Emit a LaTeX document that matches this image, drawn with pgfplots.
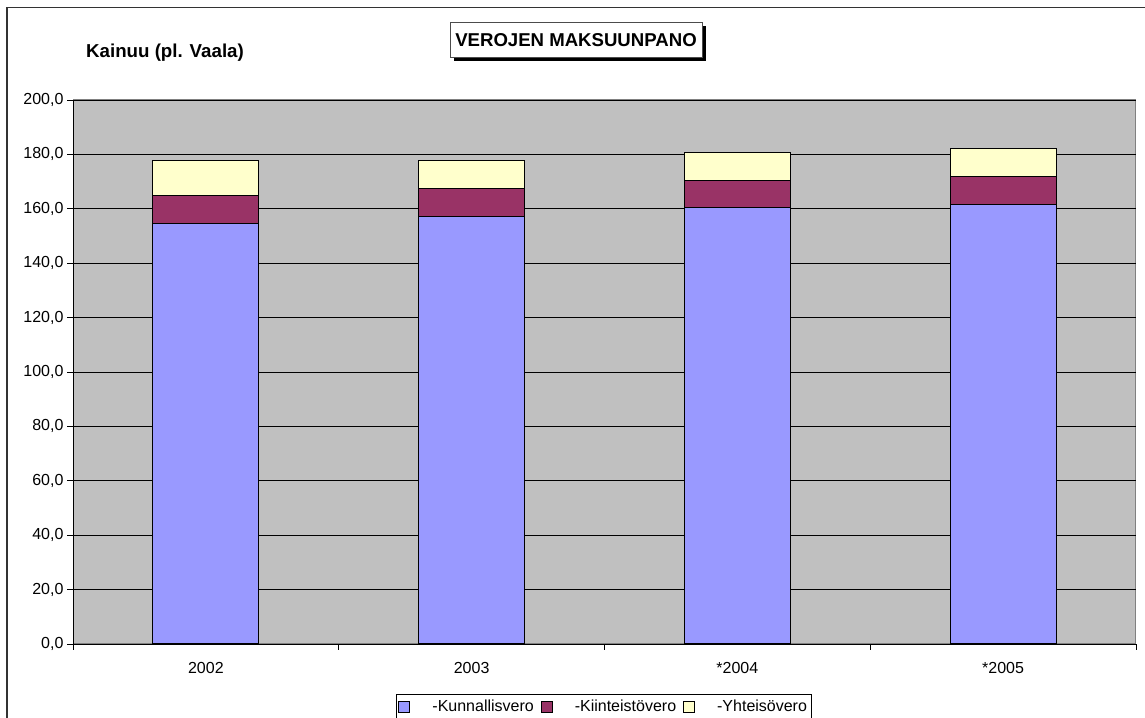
\documentclass[border=0pt]{standalone}
\usepackage{fontspec}
\setmainfont{Liberation Sans}
\usepackage{pgfplots}
\pgfplotsset{compat=1.18}
\definecolor{kunn}{HTML}{9999FF}
\definecolor{kiint}{HTML}{993366}
\definecolor{yht}{HTML}{FFFFCC}
\definecolor{bggray}{HTML}{C0C0C0}
\begin{document}
\begin{tikzpicture}[x=1bp,y=1bp]
\useasboundingbox (0,0) rectangle (1145,718);
\draw[line width=1.2bp, draw=black!80] (7,-5) -- (7,710.5) -- (1150,710.5);
\begin{axis}[
  at={(73bp,74bp)}, anchor=south west,
  scale only axis, width=1063bp, height=544bp,
  ybar stacked, bar width=106bp,
  xmin=-0.5, xmax=3.5, ymin=0, ymax=200,
  axis lines*=left,
  axis line style={black, line width=0.9bp},
  axis background/.style={fill=bggray, draw=black!50, line width=1bp},
  ytick={0,20,...,200},
  ymajorgrids, grid style={black, line width=0.9bp},
  xtick={-0.5,0.5,...,3.5}, xticklabels={},
  extra x ticks={0,1,2,3},
  extra x tick labels={2002,2003,*2004,*2005},
  extra x tick style={grid=none, major tick length=0pt, tick style={draw=none}},
  tick align=outside, major tick length=6bp,
  tick style={black, line width=0.9bp},
  ticklabel style={font=\fontsize{16bp}{18bp}\selectfont},
  yticklabel style={/pgf/number format/.cd, fixed, fixed zerofill, precision=1, use comma, assume math mode=true},
  xticklabel style={yshift=-15bp},
  legend style={at={(0.3039,-0.0919)}, anchor=north west, draw=black, line width=0.8bp,
    font=\fontsize{16bp}{18bp}\selectfont, legend columns=3,
    /tikz/every even column/.append style={column sep=5bp},
    inner xsep=2bp, inner ysep=4bp},
  legend image code/.code={\draw[#1, draw=black, line width=1bp] (0bp,-5.5bp) rectangle (11bp,5.5bp);},
  every axis plot/.append style={draw=black, line width=1bp},
]
\addplot[fill=kunn] coordinates {(0,154.7) (1,157.1) (2,160.3) (3,161.5)};
\addplot[fill=kiint] coordinates {(0,10.1) (1,10.2) (2,10.2) (3,10.3)};
\addplot[fill=yht] coordinates {(0,12.8) (1,10.4) (2,10.3) (3,10.3)};
\legend{\hspace{20bp}-Kunnallisvero,\hspace{20bp}-Kiinteistövero,\hspace{20bp}-Yhteisövero}
\end{axis}
\node[anchor=base west, inner sep=0, font=\bfseries\fontsize{18.7bp}{22bp}\selectfont] at (86,660.7) {Kainuu (pl. Vaala)};
\fill[black] (454,657) rectangle (706,692);
\node[draw=black!70, line width=1bp, fill=white, minimum width=252bp, minimum height=35bp, inner sep=0] at (576,678) {};
\node[anchor=base, inner sep=0, font=\bfseries\fontsize{18.6bp}{22bp}\selectfont] at (576,671.3) {VEROJEN MAKSUUNPANO};
\end{tikzpicture}
\end{document}
